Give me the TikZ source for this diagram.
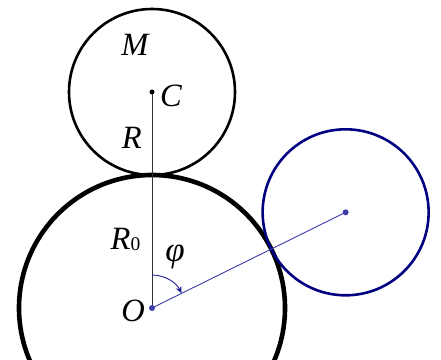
\documentclass[tikz,border=0pt]{standalone}
\usepackage{fontspec}
\setmainfont{Liberation Serif}
\usetikzlibrary{arrows.meta,calc}
\definecolor{navy}{RGB}{0,0,128}
\definecolor{lineblue}{RGB}{60,60,170}
\definecolor{arcblue}{RGB}{30,30,150}
\tikzset{
  lbl/.style={inner sep=0pt, font=\fontsize{32.5}{32.5}\selectfont\itshape},
  dot/.style={circle, fill, inner sep=0pt, minimum size=#1},
}
\begin{document}
\begin{tikzpicture}[x=1pt,y=1pt]
\useasboundingbox (0,0) rectangle (441,359);
\coordinate (O) at (152,51);
\coordinate (C) at ($(O)+(90:216)$);
\coordinate (B) at ($(O)+(26.3:216)$);
% circles
\draw[line width=4.6pt] (O) circle (133pt);
\draw[line width=2.6pt] (C) circle (83pt);
\draw[navy, line width=2.6pt] (B) circle (83pt);
% connectors
\draw[line width=0.9pt, black!80] (O) -- (C);
\draw[lineblue, line width=0.9pt] (O) -- (B);
\draw[arcblue, line width=0.9pt, -{Stealth[length=7pt,width=6pt]}] ([shift={(90:33pt)}]O) arc (90:26.3:33pt);
% dots
\node[dot=5pt, fill=black] (Cd) at (C) {};
\node[dot=6pt, fill=lineblue] (Od) at (O) {};
\node[dot=6pt, fill=lineblue] (Bd) at (B) {};
% labels
\node[lbl] (M) at (135,314) {M};
\node[lbl] (Cl) at (171,263) {C};
\node[lbl] (R) at (131.7,220.7) {R};
\node[lbl, anchor=base west] (R0) at (110.5,109.7) {R\upshape\fontsize{19.5}{19.5}\selectfont\raisebox{-1pt}{0}};
\node[lbl, font=\fontsize{35}{35}\selectfont\itshape] (phi) at (175,102) {φ};
\node[lbl] (Ol) at (133,48) {O};
\end{tikzpicture}
\end{document}
